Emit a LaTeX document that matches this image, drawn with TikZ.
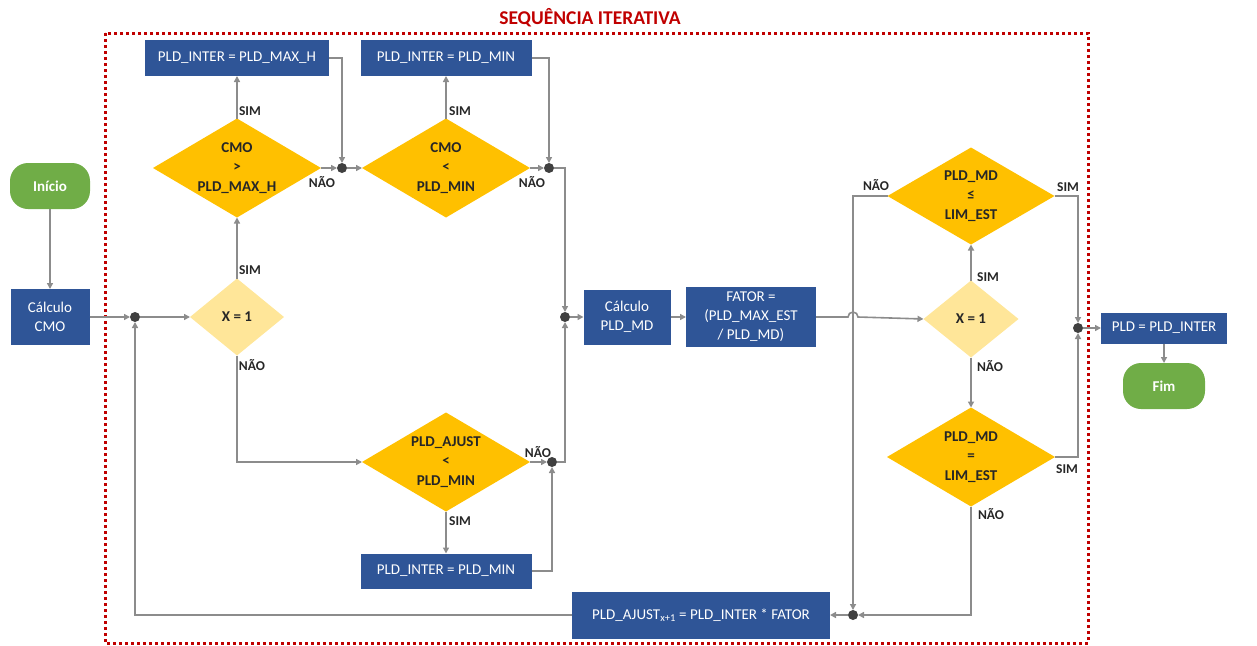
\documentclass[tikz,border=0pt]{standalone}
\usepackage{fontspec}
\setmainfont{Carlito}
\usetikzlibrary{shapes.geometric,arrows.meta,calc}
\definecolor{bx}{HTML}{2F5597}
\definecolor{og}{HTML}{FFC000}
\definecolor{ly}{HTML}{FFE699}
\definecolor{gr}{HTML}{70AD47}
\definecolor{rd}{HTML}{C00000}
\definecolor{lg}{HTML}{8C8C8C}
\definecolor{dg}{HTML}{404040}
\definecolor{tx}{HTML}{262626}
\begin{document}
\begin{tikzpicture}[x=1pt,y=-1pt,
  box/.style={rectangle, fill=bx, text=white, font=\fontsize{15}{19}\selectfont, align=center, inner sep=0pt, outer sep=0pt},
  term/.style={rectangle, rounded corners=18pt, fill=gr, text=white, font=\bfseries\fontsize{15}{19}\selectfont, inner sep=0pt, outer sep=0pt},
  dec/.style={diamond, shape aspect=1.7, fill=og, text=tx, font=\bfseries\fontsize{15}{19.5}\selectfont, align=center, inner sep=-8pt, outer sep=0pt},
  decl/.style={dec, fill=ly},
  lab/.style={font=\bfseries\fontsize{13.5}{15}\selectfont, text=tx, inner sep=0pt},
  ln/.style={draw=lg, line width=1.6pt},
  arr/.style={ln, -{Triangle[length=6pt,width=6pt]}},
  jn/.style={circle, fill=dg, inner sep=0pt, minimum size=10pt, outer sep=0pt}]
\useasboundingbox (0,0) rectangle (1257,645);

% frame and title
\draw[rd, line width=3pt, dash pattern=on 3pt off 3pt] (105,33) rectangle (1088,643);
\node[font=\bfseries\fontsize{19.5}{22}\selectfont, text=rd] (title) at (590,18) {SEQUÊNCIA ITERATIVA};

% terminals and boxes
\node[term, minimum width=80, minimum height=46] (ini) at (50,186) {Início};
\node[box, minimum width=79, minimum height=56] (cmo) at (50,317) {Cálculo\\CMO};
\node[box, minimum width=184, minimum height=36] (bmax) at (237,58) {PLD\_INTER = PLD\_MAX\_H};
\node[box, minimum width=171, minimum height=36] (bmin) at (446,58) {PLD\_INTER = PLD\_MIN};
\node[box, minimum width=171, minimum height=35] (bmin2) at (446,571) {PLD\_INTER = PLD\_MIN};
\node[box, minimum width=87, minimum height=55] (cpm) at (627,317) {Cálculo\\PLD\_MD};
\node[box, minimum width=130, minimum height=60] (fat) at (751,317) {FATOR =\\(PLD\_MAX\_EST\\/ PLD\_MD)};
\node[box, minimum width=258, minimum height=47] (aj) at (701,615) {PLD\_AJUST\textsubscript{x+1} = PLD\_INTER * FATOR};
\node[box, minimum width=126, minimum height=31] (pld) at (1164,328) {PLD = PLD\_INTER};
\node[term, minimum width=82, minimum height=46] (fim) at (1164,386) {Fim};

% decisions
\node[decl, minimum width=94, minimum height=77] (x1) at (237,317) {X = 1};
\node[dec, minimum width=168, minimum height=99] (dmax) at (237,168) {CMO\\>\\PLD\_MAX\_H};
\node[dec, minimum width=168, minimum height=99] (dmin) at (446,168) {CMO\\<\\PLD\_MIN};
\node[dec, minimum width=168, minimum height=99] (dpa) at (446,462) {PLD\_AJUST\\<\\PLD\_MIN};
\node[decl, minimum width=95, minimum height=77] (x2) at (971,319) {X = 1};
\node[dec, minimum width=167, minimum height=97] (dle) at (971,196) {PLD\_MD\\≤\\LIM\_EST};
\node[dec, minimum width=168, minimum height=99] (deq) at (971,457) {PLD\_MD\\=\\LIM\_EST};

% junctions
\node[jn] (j1) at (135,317) {};
\node[jn] (j2) at (342,168) {};
\node[jn] (j3) at (549,168) {};
\node[jn] (j4) at (565,317) {};
\node[jn] (j5) at (1078,328) {};
\node[jn] (j6) at (853,615) {};
\node[jn] (j7) at (552,462) {};

% connectors
\draw[arr] (ini.south) -- (cmo.north);
\draw[arr] (cmo.east) -- (j1.west);
\draw[arr] (j1.east) -- (x1.west);
\draw[arr] (x1.north) -- (dmax.south);
\draw[arr] (dmax.north) -- (bmax.south);
\draw[arr] (dmax.east) -- (j2.west);
\draw[arr] (bmax.east) -| (j2.north);
\draw[arr] (j2.east) -- (dmin.west);
\draw[arr] (dmin.north) -- (bmin.south);
\draw[arr] (dmin.east) -- (j3.west);
\draw[arr] (bmin.east) -| (j3.north);
\draw[arr] (j3.east) -| (j4.north);
\draw[arr] (j4.east) -- (cpm.west);
\draw[arr] (cpm.east) -- (fat.west);
\draw[arr] (fat.east) -- ($(j6 |- fat.east)+(-5pt,0)$) arc[start angle=180, end angle=0, radius=5pt] -- (x2.west);
\draw[arr] (x2.north) -- (dle.south);
\draw[arr] (x2.south) -- (deq.north);
\draw[arr] (dle.west) -| (j6.north);
\draw[arr] (dle.east) -| (j5.north);
\draw[arr] (deq.east) -| (j5.south);
\draw[arr] (deq.south) |- (j6.east);
\draw[arr] (j6.west) -- (aj.east);
\draw[arr] (aj.west) -| (j1.south);
\draw[arr] (x1.south) |- (dpa.west);
\draw[arr] (dpa.east) -- (j7.west);
\draw[arr] (dpa.south) -- (bmin2.north);
\draw[arr] (bmin2.east) -| (j7.south);
\draw[arr] (j7.east) -| (j4.south);
\draw[arr] (j5.east) -- (pld.west);
\draw[arr] (pld.south) -- (fim.north);

% labels
\node[lab] (l1) at (250,270) {SIM};
\node[lab] (l2) at (252,365) {NÃO};
\node[lab] (l3) at (250,111) {SIM};
\node[lab] (l4) at (322,182) {NÃO};
\node[lab] (l5) at (460,111) {SIM};
\node[lab] (l6) at (532,182) {NÃO};
\node[lab] (l7) at (538,452) {NÃO};
\node[lab] (l8) at (460,521) {SIM};
\node[lab] (l9) at (876,185) {NÃO};
\node[lab] (l10) at (1068,187) {SIM};
\node[lab] (l11) at (988,277) {SIM};
\node[lab] (l12) at (990,366) {NÃO};
\node[lab] (l13) at (1067,469) {SIM};
\node[lab] (l14) at (991,514) {NÃO};
\end{tikzpicture}
\end{document}
